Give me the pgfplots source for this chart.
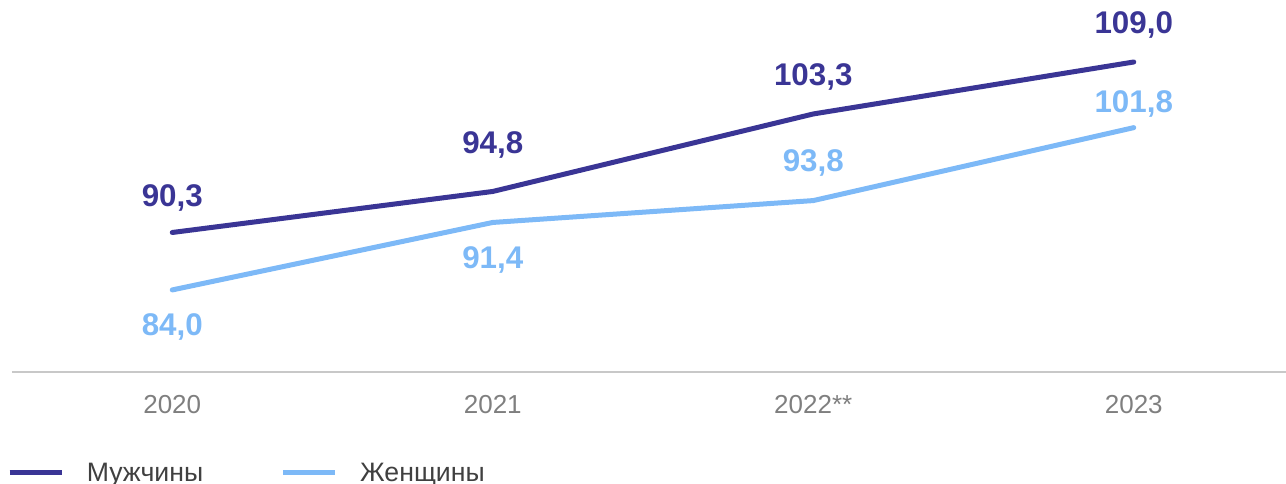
\documentclass[border=0pt]{standalone}
\usepackage{fontspec}
\setmainfont{Liberation Sans}
\usepackage{pgfplots}
\usepackage{pgfplotstable}
\pgfplotsset{compat=1.18}
\definecolor{men}{HTML}{3A3595}
\definecolor{women}{HTML}{7DB9F7}
\definecolor{tickgray}{HTML}{7F7F7F}
\definecolor{axgray}{HTML}{C8C8C8}
\pgfplotstableread{
x y dy lab
0 90.3 26 90,3
1 94.8 35 94,8
2 103.3 28 103,3
3 109.0 28 109,0
}\men
\pgfplotstableread{
x y dy lab
0 84.0 -28 84,0
1 91.4 -28 91,4
2 93.8 28 93,8
3 101.8 18 101,8
}\women
\begin{document}
\begin{tikzpicture}
\begin{axis}[
  at={(9pt,84pt)}, anchor=south west,
  scale only axis, width=955.5pt, height=279pt,
  xmin=-0.5, xmax=3.475, ymin=75, ymax=115.8,
  clip=false,
  axis x line=bottom, axis y line=none,
  x axis line style={draw=axgray, line width=1.5pt, -},
  xtick={0,1,2,3}, xticklabels={2020,2021,2022**,2023},
  major tick length=0pt,
  xticklabel style={font=\fontsize{19.5}{22}\selectfont, text=tickgray, anchor=center, yshift=-24.75pt},
  nodes near coords={\pgfplotspointmeta},
  point meta=explicit symbolic,
  visualization depends on={\thisrow{dy} \as \dy},
  nodes near coords style={anchor=center, yshift=\dy pt, font=\fontsize{23.5}{26}\selectfont\bfseries},
  legend columns=2,
  legend style={at={(axis description cs:-0.004,-0.2715)}, anchor=west, draw=none, fill=none, inner sep=0pt,
    font=\fontsize{20}{22}\selectfont, text=black!75,
    nodes={inner sep=0pt, anchor=west},
    /tikz/every odd column/.append style={column sep=17pt},
    /tikz/every even column/.append style={column sep=58pt}},
  legend image code/.code={\draw[#1, line width=3.75pt, line cap=butt] (0pt,0pt) -- (39pt,0pt);},
]
\addplot[men, line width=3.75pt, line cap=round, line join=round, mark=none,
  nodes near coords style={text=men}] table[x=x,y=y,meta=lab] {\men};
\addlegendentry{Мужчины}
\addplot[women, line width=3.75pt, line cap=round, line join=round, mark=none,
  nodes near coords style={text=women}] table[x=x,y=y,meta=lab] {\women};
\addlegendentry{Женщины}
\end{axis}
\pgfresetboundingbox
\useasboundingbox (0,0) rectangle (964.5pt,363pt);
\end{tikzpicture}
\end{document}
